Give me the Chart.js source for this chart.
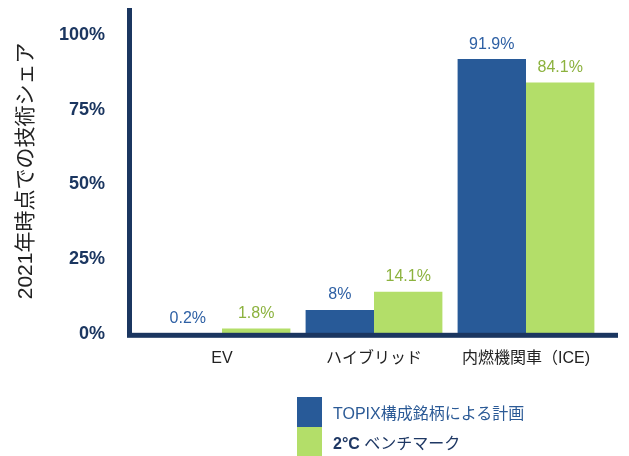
<!DOCTYPE html>
<html>
<head>
<meta charset="utf-8">
<script src="https://cdn.jsdelivr.net/npm/chart.js@4.4.0/dist/chart.umd.min.js"></script>
<style>
  body { margin: 0; background: #fff; }
  #wrap { position: relative; width: 629px; height: 456px; }
  #legend { position: absolute; left: 297px; top: 397px; font-family: "Liberation Sans", "Noto Sans CJK JP", sans-serif; font-size: 16px; }
  .row { display: flex; align-items: center; height: 30px; }
  .sw { width: 25px; height: 30px; margin-right: 11px; }
</style>
</head>
<body>
<div id="wrap">
  <canvas id="techChart" width="629" height="456"></canvas>
  <div id="legend">
    <div class="row"><span class="sw" style="background:#285A98"></span><span style="color:#2B5A96">TOPIX構成銘柄による計画</span></div>
    <div class="row"><span class="sw" style="background:#B3DE69"></span><span style="color:#1F3864"><b>2°C</b> ベンチマーク</span></div>
  </div>
</div>
<script>
const categories = ["EV", "ハイブリッド", "内燃機関車（ICE)"];
const topixPlan = [0.2, 8, 91.9];
const benchmark2C = [1.8, 14.1, 84.1];
const yTicks = [0, 25, 50, 75, 100];

const FONT = "'Liberation Sans', 'Noto Sans CJK JP', sans-serif";
const NAVY = "#1B3660";

// axis lines + value labels drawn by hand
const extras = {
    id: "extras",
    afterDatasetsDraw(chart) {
        const ctx = chart.ctx;
        const y0 = chart.scales.y.getPixelForValue(0);
        const top = chart.chartArea.top;
        ctx.save();
        ctx.fillStyle = NAVY;
        ctx.fillRect(127, top, 5, y0 - top + 3);
        ctx.fillRect(127, y0 - 1, 618 - 127, 5);

        ctx.font = "16px " + FONT;
        ctx.textAlign = "center";
        ctx.textBaseline = "bottom";
        chart.data.datasets.forEach((ds, i) => {
            ctx.fillStyle = ds.labelColor;
            chart.getDatasetMeta(i).data.forEach((bar, j) => {
                ctx.fillText(ds.data[j] + "%", bar.x, bar.y - 7);
            });
        });
        ctx.restore();
    }
};

new Chart(document.getElementById("techChart"), {
    type: "bar",
    data: {
        labels: categories,
        datasets: [
            { label: "TOPIX構成銘柄による計画", data: topixPlan, backgroundColor: "#285A98", labelColor: "#2E60A4" },
            { label: "2°C ベンチマーク", data: benchmark2C, backgroundColor: "#B3DE69", labelColor: "#8CB23E" }
        ]
    },
    options: {
        responsive: false,
        animation: false,
        layout: { padding: { top: 8, right: 27, bottom: 81, left: 0 } },
        categoryPercentage: 0.9,
        barPercentage: 1.0,
        plugins: { legend: { display: false }, tooltip: { enabled: false } },
        scales: {
            x: {
                grid: { display: false },
                border: { display: false },
                ticks: { color: "#222", font: { family: FONT, size: 16 }, padding: 7 }
            },
            y: {
                min: 0,
                max: 109,
                afterBuildTicks: s => { s.ticks = yTicks.map(v => ({ value: v })); },
                afterFit: s => { s.width = 146; s.paddingTop = 0; s.paddingBottom = 0; },
                grid: { display: false },
                border: { display: false },
                ticks: {
                    color: NAVY,
                    font: { family: FONT, size: 18, weight: "bold" },
                    padding: 33,
                    callback: v => v + "%"
                },
                title: {
                    display: true,
                    text: "2021年時点での技術シェア",
                    color: "#222",
                    font: { family: FONT, size: 21 },
                    padding: { top: 14, bottom: 0 }
                }
            }
        }
    },
    plugins: [extras]
});
</script>
</body>
</html>
